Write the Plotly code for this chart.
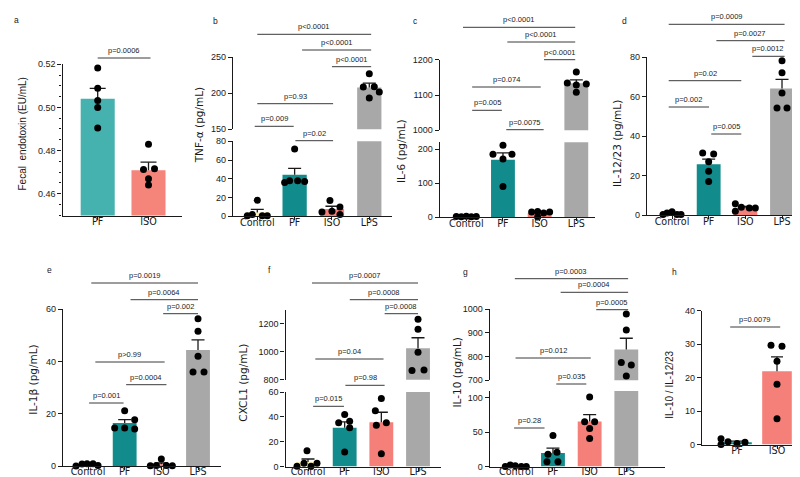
import plotly.graph_objects as go

W, H = 800, 477
SANS = "Liberation Sans, Arial, sans-serif"
WIDE = "DejaVu Sans, Verdana, sans-serif"
INK = "#1a1a1a"

# ---------------- data ----------------
# a: fecal endotoxin
endo_groups = ["PF", "ISO"]
endo_mean = [0.5040, 0.4709]
endo_sem = [0.0048, 0.0037]
endo_points = [[0.5182, 0.5089, 0.5032, 0.5000, 0.4904],
               [0.4829, 0.4712, 0.4716, 0.4669, 0.4640]]
endo_p = ["p=0.0006"]

groups4 = ["Control", "PF", "ISO", "LPS"]

# b: TNF-alpha
tnf_mean = [4.0, 44.2, 7.7, 208.1]
tnf_sem = [3.3, 7.0, 3.0, 6.0]
tnf_points = [[0.5, 1.8, 17.0, 0.5, 0.5],
              [71.8, 36.0, 38.0, 38.0, 37.0],
              [16.8, 4.6, 5.4, 10.0, 1.8],
              [227.2, 208.7, 209.2, 201.8, 193.5]]
tnf_p = ["p<0.0001", "p<0.0001", "p<0.0001", "p=0.93", "p=0.009", "p=0.02"]

# c: IL-6
il6_mean = [1.4, 168.3, 11.5, 1133.2]
il6_sem = [0.2, 20.5, 3.2, 9.7]
il6_points = [[1.5, 1.0, 2.0, 1.0, 1.5],
              [211.0, 185.0, 185.0, 170.5, 90.0],
              [14.6, 16.5, 12.0, 14.6, 0.0],
              [1165.0, 1134.0, 1131.0, 1128.0, 1108.0]]
il6_p = ["p<0.0001", "p<0.0001", "p<0.0001", "p=0.074", "p=0.005", "p=0.0075"]

# d: IL-12/23
il12_mean = [0.7, 25.7, 3.7, 64.2]
il12_sem = [0.3, 2.6, 0.65, 4.6]
il12_points = [[0.2, 1.0, 1.7, 0.3, 0.3],
               [31.5, 31.0, 27.0, 22.2, 17.0],
               [5.7, 3.9, 1.9, 3.5, 3.5],
               [78.3, 72.1, 61.9, 54.3, 54.3]]
il12_p = ["p=0.0009", "p=0.0027", "p=0.0012", "p=0.02", "p=0.002", "p=0.005"]

# e: IL-1beta
il1b_mean = [0.66, 16.5, 0.76, 44.4]
il1b_sem = [0.2, 1.3, 0.5, 3.8]
il1b_points = [[0.1, 0.9, 1.0, 1.0, 0.3],
               [21.2, 14.6, 14.6, 17.8, 14.2],
               [2.8, 0.2, 0.3, 0.3, 0.2],
               [56.3, 51.5, 42.0, 36.0, 36.0]]
il1b_p = ["p=0.0019", "p=0.0064", "p=0.002", "p>0.99", "p=0.0004", "p=0.001"]

# f: CXCL1
cxcl1_mean = [3.7, 31.3, 35.7, 1024.6]
cxcl1_sem = [2.4, 4.6, 8.0, 75.0]
cxcl1_points = [[0.2, 12.8, 2.7, 0.2, 2.7],
                [41.9, 36.5, 35.2, 31.2, 11.7],
                [54.7, 45.0, 35.2, 33.2, 10.4],
                [1231.0, 1160.0, 996.0, 866.0, 870.0]]
cxcl1_p = ["p=0.0007", "p=0.0008", "p=0.0008", "p=0.04", "p=0.98", "p=0.015"]

# g: IL-10
il10_mean = [0.9, 19.7, 65.7, 829.8]
il10_sem = [0.4, 7.1, 10.1, 47.1]
il10_points = [[0.3, 2.4, 1.2, 0.3, 0.3],
               [45.4, 18.0, 21.0, 7.0, 7.0],
               [101.4, 65.2, 65.2, 55.6, 41.0],
               [979.0, 911.8, 774.8, 764.7, 718.5]]
il10_p = ["p=0.0003", "p=0.0004", "p=0.0005", "p=0.012", "p=0.035", "p=0.28"]

# h: IL-10 / IL-12/23 ratio
ratio_groups = ["PF", "ISO"]
ratio_mean = [0.7, 21.9]
ratio_sem = [0.3, 4.3]
ratio_points = [[1.7, 0.0, 0.8, 0.3, 0.7],
                [29.7, 29.4, 24.9, 18.0, 7.7]]
ratio_p = ["p=0.0079"]

# ---------------- styling / layout ----------------
TEAL_A, SALMON_A = "#45B2AF", "#F5857B"
TEAL, SALMON, GREY, YELLOW = "#118B8B", "#F57F79", "#A8A8A8", "#FFF2B3"
C4 = [YELLOW, TEAL, SALMON, GREY]

panels = [
    dict(letter="a", letter_xy=(4, 5), groups=endo_groups, mean=endo_mean, sem=endo_sem,
         pts=endo_points, pvals=endo_p, title="Fecal\u00a0 endotoxin (EU/mL)", tfont=SANS,
         tsize=10, title_xy=(14.5, 126), x_px=(54.5, 174), c0=89.7, step=50.8, bw=0.67,
         cap=8, colors=[TEAL_A, SALMON_A], lab_off=-6,
         segs=[dict(rng=(0.4499, 0.5201), px=(207.5, 56), tick0=0.46, dtick=0.02,
                    fmt=".2f", minor=0.005)],
         jit=[[0, 0, 0, 0, 0], [0, -5, 6, 0, 0]],
         brackets=[(0.0, 1.04, 50)]),
    dict(letter="b", letter_xy=(203, 6), groups=groups4, mean=tnf_mean, sem=tnf_sem,
         pts=tnf_points, pvals=tnf_p, title="TNF-α (pg/mL)", tfont=WIDE, tsize=10.5,
         title_xy=(191.3, 117), x_px=(225, 384.3), c0=249.3, step=37.33, bw=0.65, cap=6.5,
         colors=C4, lab_off=-6,
         segs=[dict(rng=(0, 80), px=(208.3, 133.3), ticks=[0, 20, 40, 60, 80]),
               dict(rng=(150, 250), px=(121.3, 49.3), ticks=[150, 200, 250])],
         jit=[[-10, -5, 0, 5, 10], [0, -10, -5, 3, 10], [-2, -10, 0, 8, 8], [0, -6, 5, 10, 0]],
         brackets=[(0, 3.05, 26.3), (1.2, 3.05, 42), (2.0, 3.05, 58.7),
                   (0, 2.03, 95.7), (-0.07, 0.975, 118.3), (1.02, 2.03, 132.7)]),
    dict(letter="c", letter_xy=(403, 6), groups=groups4, mean=il6_mean, sem=il6_sem,
         pts=il6_points, pvals=il6_p, title="IL-6 (pg/mL)", tfont=WIDE, tsize=10.5,
         title_xy=(393, 143), x_px=(431.7, 586.7), c0=458.3, step=36.67, bw=0.65, cap=6.5,
         colors=C4, lab_off=-6,
         segs=[dict(rng=(0, 220), px=(209, 134.3), ticks=[0, 100, 200]),
               dict(rng=(1000, 1200), px=(122.3, 51.7), ticks=[1000, 1100, 1200])],
         jit=[[-10, -5, 0, 5, 10], [0, -10, 9, 0, 0], [-8, -2, 4, 10, -2], [0, -9, 10, 0, 0]],
         brackets=[(-0.09, 2.97, 19.3), (1.12, 2.97, 34), (2.12, 2.97, 51.7),
                   (0.16, 2.03, 79), (0.16, 0.97, 102.3), (1.09, 2.11, 121.7)]),
    dict(letter="d", letter_xy=(612, 6), groups=groups4, mean=il12_mean, sem=il12_sem,
         pts=il12_points, pvals=il12_p, title="IL-12/23 (pg/mL)", tfont=WIDE, tsize=10.5,
         title_xy=(609, 136), x_px=(639, 793.3), c0=664, step=36.67, bw=0.65, cap=6.5,
         colors=C4, lab_off=-6,
         segs=[dict(rng=(0, 80), px=(207, 49.3), ticks=[0, 20, 40, 60, 80])],
         jit=[[-9, -5, 0, 5, 9], [-6, 5, 0, 0, 0], [-10, -4, -10, 4, 10], [0, 0, 0, -5, 5]],
         brackets=[(-0.09, 3.07, 16.3), (1.21, 3.07, 32.7), (2.19, 3.07, 48.3),
                   (-0.09, 1.89, 72.7), (-0.09, 1.01, 99), (1.07, 1.89, 126)]),
    dict(letter="e", letter_xy=(37, 255), groups=groups4, mean=il1b_mean, sem=il1b_sem,
         pts=il1b_points, pvals=il1b_p, title="IL-1β (pg/mL)", tfont=WIDE, tsize=10.5,
         title_xy=(25, 371.7), x_px=(55, 213.3), c0=80, step=36.67, bw=0.65, cap=6.5,
         colors=C4, lab_off=-7,
         segs=[dict(rng=(0, 60), px=(458.3, 301), ticks=[0, 20, 40, 60])],
         jit=[[-12, -6, -1, 5, 10], [0, -10, 0, 10, 10], [0, -11, -5, 5, 11], [0, 0, 0, -5, 6]],
         brackets=[(0.09, 3.0, 275), (1.16, 3.0, 291.7), (2.05, 3.0, 305.7),
                   (0.2, 2.09, 354), (1.04, 2.14, 376.7), (0.03, 0.97, 395)]),
    dict(letter="f", letter_xy=(258, 255), groups=groups4, mean=cxcl1_mean, sem=cxcl1_sem,
         pts=cxcl1_points, pvals=cxcl1_p, title="CXCL1 (pg/mL)", tfont=WIDE, tsize=10.5,
         title_xy=(234.7, 375), x_px=(277.5, 433.3), c0=300, step=36.67, bw=0.65, cap=6.5,
         colors=C4, lab_off=-7,
         segs=[dict(rng=(0, 60), px=(458.6, 384), ticks=[0, 20, 40, 60]),
               dict(rng=(800, 1300), px=(371.7, 301.7), ticks=[800, 1000, 1200])],
         jit=[[-11, -1, -4, 3, 9], [0, 5, -6, 5, 0], [0, -6, 5, -5, 0], [0, 0, 0, -6, 6]],
         brackets=[(0.11, 3.0, 275), (1.14, 3.0, 291.7), (2.09, 3.0, 305.7),
                   (0.2, 2.06, 351), (1.02, 2.09, 377.3), (0.14, 0.98, 398.3)]),
    dict(letter="g", letter_xy=(453, 257), groups=groups4, mean=il10_mean, sem=il10_sem,
         pts=il10_points, pvals=il10_p, title="IL-10 (pg/mL)", tfont=WIDE, tsize=10.5,
         title_xy=(448.5, 365), x_px=(481.7, 656.7), c0=508.3, step=36.67, bw=0.65, cap=6.5,
         colors=C4, lab_off=-7,
         segs=[dict(rng=(0, 110), px=(458.6, 383.1), ticks=[0, 50, 100]),
               dict(rng=(700, 1000), px=(372.3, 301), ticks=[700, 800, 900, 1000])],
         jit=[[-11, -6, -1, 5, 10], [0, -5, 4, -6, 5], [0, -5, 5, 0, 0], [0, 0, -5, 5, 0]],
         brackets=[(-0.04, 3.05, 270.7), (1.21, 3.05, 284.3), (2.18, 3.05, 301.7),
                   (-0.02, 2.03, 350), (1.09, 1.91, 376), (-0.06, 0.77, 420)]),
    dict(letter="h", letter_xy=(662, 257), groups=ratio_groups, mean=ratio_mean, sem=ratio_sem,
         pts=ratio_points, pvals=ratio_p, title="IL-10 / IL-12/23", tfont=SANS, tsize=10,
         title_xy=(662, 376.7), x_px=(694, 797), c0=729, step=40, bw=0.74, cap=6,
         colors=[TEAL, SALMON], lab_off=-6,
         segs=[dict(rng=(0, 40), px=(436.5, 302.7), ticks=[0, 10, 20, 30, 40])],
         jit=[[-16, -16, -9, 0, 8], [-6, 5, 0, 0, 0]],
         brackets=[(-0.17, 1.08, 319)]),
]


def px_x(x):
    return x / W


def px_y(y):
    return 1 - y / H


def esc(t):
    return t.replace("<", "&lt;").replace(">", "&gt;")


fig = go.Figure()
axes = {}
shapes = []
annotations = []
xi = 0
yi = 0

for P in panels:
    xi += 1
    xid = "x" if xi == 1 else f"x{xi}"
    xkey = "xaxis" if xi == 1 else f"xaxis{xi}"
    n = len(P["groups"])
    xl, xr = P["x_px"]
    c0, step = P["c0"], P["step"]
    seg_ids = []
    for seg in P["segs"]:
        yi += 1
        yid = "y" if yi == 1 else f"y{yi}"
        ykey = "yaxis" if yi == 1 else f"yaxis{yi}"
        seg_ids.append(yid)
        yb, yt = seg["px"]
        lo, hi = seg["rng"]
        ax = dict(domain=[px_y(yb), px_y(yt)], range=[lo, hi], anchor=xid,
                  showline=True, linecolor=INK, linewidth=1.3, ticks="outside",
                  ticklen=4, tickwidth=1.2, tickcolor=INK,
                  tickfont=dict(family=SANS, size=9, color=INK), showgrid=False,
                  zeroline=False, fixedrange=True)
        if "ticks" in seg:
            ax["tickvals"] = seg["ticks"]
        else:
            ax["tick0"] = seg["tick0"]
            ax["dtick"] = seg["dtick"]
        if "fmt" in seg:
            ax["tickformat"] = seg["fmt"]
        if "minor" in seg:
            ax["minor"] = dict(dtick=seg["minor"], tick0=0.45, ticks="outside", ticklen=2.5,
                               tickwidth=1, tickcolor=INK)
        axes[ykey] = ax

        # bars
        fig.add_trace(go.Bar(x=list(range(n)), y=P["mean"], width=P["bw"],
                             marker=dict(color=P["colors"], line=dict(width=0)),
                             xaxis=xid, yaxis=yid, showlegend=False, hoverinfo="skip"))
        # error bars (upper half, SEM)
        half = P["cap"] / step
        ex, ey = [], []
        for i, (m, s) in enumerate(zip(P["mean"], P["sem"])):
            ex += [i, i, None, i - half, i + half, None]
            ey += [m, m + s, None, m + s, m + s, None]
        fig.add_trace(go.Scatter(x=ex, y=ey, mode="lines", line=dict(color=INK, width=1.3),
                                 xaxis=xid, yaxis=yid, showlegend=False, hoverinfo="skip"))
        # individual points
        dx, dy = [], []
        for i, vals in enumerate(P["pts"]):
            for v, j in zip(vals, P["jit"][i]):
                if lo <= v <= hi:
                    dx.append(i + j / step)
                    dy.append(v)
        fig.add_trace(go.Scatter(x=dx, y=dy, mode="markers",
                                 marker=dict(size=7, color="black", line=dict(width=0)),
                                 cliponaxis=False, xaxis=xid, yaxis=yid,
                                 showlegend=False, hoverinfo="skip"))

    axes[xkey] = dict(domain=[px_x(xl), px_x(xr)], range=[(xl - c0) / step, (xr - c0) / step],
                      anchor=seg_ids[0], tickvals=list(range(n)), ticktext=P["groups"],
                      showline=True, linecolor=INK, linewidth=1.3, ticks="outside", ticklen=3,
                      tickwidth=1.2, tickcolor=INK, ticklabelstandoff=P["lab_off"],
                      tickfont=dict(family=WIDE, size=9.6, color=INK),
                      showgrid=False, zeroline=False, fixedrange=True)

    # significance brackets
    for (b0, b1, yline), lab in zip(P["brackets"], P["pvals"]):
        shapes.append(dict(type="line", xref=xid, yref="paper", x0=b0, x1=b1,
                           y0=px_y(yline), y1=px_y(yline),
                           line=dict(color="#3a3a3a", width=1)))
        annotations.append(dict(xref=xid, yref="paper", x=(b0 + b1) / 2,
                                y=px_y(yline - 7.5), text=esc(lab), showarrow=False,
                                font=dict(family=SANS, size=7.5, color=INK),
                                xanchor="center", yanchor="middle"))

    # axis title
    tx, ty = P["title_xy"]
    annotations.append(dict(xref="paper", yref="paper", x=px_x(tx), y=px_y(ty),
                            text=P["title"], textangle=-90, showarrow=False,
                            font=dict(family=P["tfont"], size=P["tsize"], color=INK),
                            xanchor="center", yanchor="middle"))
    # panel letter
    lx, ly = P["letter_xy"]
    annotations.append(dict(xref="paper", yref="paper", x=px_x(lx), y=px_y(ly),
                            text=P["letter"], showarrow=False,
                            font=dict(family=SANS, size=8.5, color=INK),
                            xanchor="left", yanchor="top"))

fig.update_layout(width=W, height=H, margin=dict(l=0, r=0, t=0, b=0),
                  paper_bgcolor="white", plot_bgcolor="white", showlegend=False,
                  template="none", shapes=shapes, annotations=annotations, **axes)

fig.write_html("out.html")
